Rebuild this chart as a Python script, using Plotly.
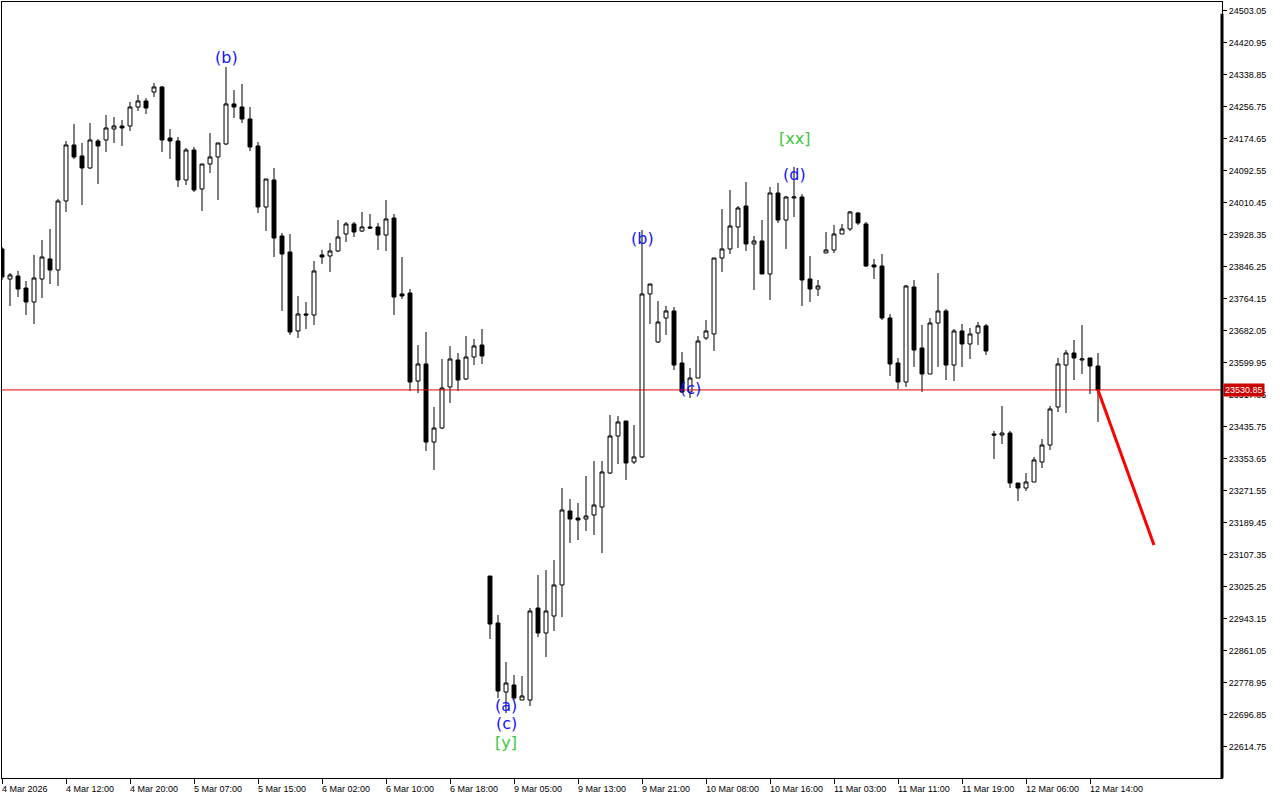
import plotly.graph_objects as go

# ---------------- data (hourly candles, 4 Mar 2026 -> 12 Mar 2026) ----------------
opens = [23892.5, 23815.4, 23823.1, 23792.3, 23756.4, 23815.4, 23866.8, 23838.5, 24015.6, 24159.3,
         24131.1, 24100.3, 24169.5, 24172.1, 24200.3, 24208.0, 24208.0, 24256.7, 24272.2, 24295.2,
         24308.1, 24177.2, 24169.5, 24069.5, 24146.4, 24046.4, 24110.5, 24128.5, 24161.8, 24264.5,
         24256.7, 24225.9, 24156.7, 24000.2, 24069.5, 23925.8, 23884.7, 23682.1, 23725.7, 23723.1,
         23877.1, 23874.5, 23887.3, 23930.9, 23956.6, 23938.6, 23948.9, 23948.9, 23928.3, 23971.9,
         23777.0, 23779.5, 23553.7, 23597.4, 23397.2, 23433.1, 23538.4, 23607.6, 23558.9, 23615.3,
         23646.1, 23053.4, 22932.8, 22755.8, 22773.8, 22735.3, 22735.3, 22971.3, 22907.2, 22950.8,
         23030.4, 23220.2, 23202.2, 23199.7, 23210.0, 23230.5, 23317.7, 23412.6, 23451.1, 23345.9,
         23358.8, 23777.0, 23653.8, 23715.4, 23733.4, 23599.9, 23525.5, 23561.4, 23664.1, 23674.4,
         23869.3, 23892.5, 23948.9, 24002.7, 23905.3, 23913.0, 23828.3, 24036.1, 23966.8, 24023.3,
         24025.8, 23815.4, 23789.8, 23882.2, 23889.9, 23930.9, 23943.8, 23984.8, 23956.6, 23851.4,
         23848.8, 23715.4, 23599.9, 23551.2, 23794.9, 23638.4, 23571.7, 23702.6, 23733.4, 23594.8,
         23682.1, 23648.7, 23677.0, 23695.1, 23417.8, 23415.2, 23420.3, 23292.0, 23279.2, 23294.6,
         23345.9, 23389.5, 23487.1, 23594.8, 23625.6, 23607.6, 23612.8, 23592.2]

highs = [23897.6, 23830.8, 23836.0, 23810.3, 23877.1, 23915.5, 23943.8, 24020.7, 24169.5, 24213.2,
         24164.4, 24215.7, 24174.7, 24236.2, 24231.1, 24223.4, 24269.6, 24287.6, 24279.8, 24318.3,
         24310.6, 24200.3, 24179.8, 24151.5, 24154.1, 24110.5, 24190.0, 24164.4, 24359.4, 24300.4,
         24315.8, 24256.7, 24166.9, 24072.0, 24100.3, 23933.5, 23930.9, 23771.9, 23756.4, 23861.6,
         23889.9, 23907.8, 23966.8, 23961.7, 23961.7, 23987.4, 23982.2, 23959.1, 24018.1, 23982.2,
         23871.9, 23789.8, 23646.1, 23679.5, 23487.1, 23610.2, 23643.6, 23625.6, 23669.2, 23661.5,
         23687.2, 23053.4, 22953.4, 22832.8, 22799.5, 22796.9, 22971.3, 23056.0, 23068.8, 23094.5,
         23279.2, 23251.0, 23240.7, 23310.0, 23348.5, 23348.5, 23466.5, 23463.9, 23451.1, 23440.8,
         23941.2, 23802.6, 23759.0, 23746.2, 23743.7, 23628.2, 23587.1, 23669.2, 23710.3, 23869.3,
         23995.0, 24043.8, 24002.7, 24064.3, 23925.8, 23966.8, 24051.5, 24061.8, 24028.4, 24102.8,
         24033.5, 23874.5, 23812.9, 23936.0, 23954.0, 23956.6, 23989.9, 23987.4, 23961.7, 23866.8,
         23879.6, 23725.7, 23612.8, 23800.1, 23812.9, 23697.5, 23715.4, 23830.8, 23738.5, 23687.2,
         23700.0, 23689.7, 23705.1, 23700.0, 23425.5, 23489.6, 23425.5, 23292.0, 23317.7, 23358.8,
         23404.9, 23489.6, 23612.8, 23633.3, 23658.9, 23697.5, 23612.8, 23625.6]

lows = [23812.9, 23746.2, 23769.3, 23723.1, 23700.0, 23766.7, 23802.6, 23797.5, 23987.4, 24123.4,
        24005.3, 24097.7, 24059.2, 24141.3, 24164.4, 24156.7, 24195.2, 24246.5, 24238.8, 24282.4,
        24141.3, 24123.4, 24051.5, 24056.6, 24038.7, 23989.9, 24087.4, 24018.1, 24159.3, 24228.5,
        24215.7, 24143.9, 23984.8, 23938.6, 23871.9, 23733.4, 23671.8, 23664.1, 23687.2, 23697.5,
        23854.0, 23833.4, 23884.7, 23910.4, 23923.2, 23936.0, 23943.8, 23889.9, 23887.3, 23723.1,
        23764.1, 23528.1, 23522.9, 23374.1, 23325.4, 23430.6, 23497.3, 23528.1, 23556.3, 23594.8,
        23597.4, 22891.8, 22740.4, 22701.9, 22735.3, 22735.3, 22719.9, 22896.9, 22845.6, 22912.3,
        22948.2, 23138.1, 23145.8, 23168.9, 23158.6, 23112.4, 23315.2, 23340.8, 23299.7, 23340.8,
        23356.2, 23700.0, 23651.3, 23671.8, 23582.0, 23522.9, 23510.1, 23561.4, 23658.9, 23630.7,
        23833.4, 23879.6, 23895.0, 23887.3, 23787.2, 23828.3, 23761.6, 23959.1, 23892.5, 23974.5,
        23746.2, 23756.4, 23771.9, 23882.2, 23882.2, 23930.9, 23938.6, 23954.0, 23846.3, 23815.4,
        23710.3, 23566.6, 23533.3, 23538.4, 23589.7, 23525.5, 23571.7, 23589.7, 23556.3, 23553.7,
        23589.7, 23610.2, 23646.1, 23620.5, 23353.6, 23392.1, 23279.2, 23245.8, 23271.5, 23294.6,
        23330.5, 23376.7, 23474.2, 23471.6, 23556.3, 23571.7, 23520.4, 23448.6]

closes = [23820.5, 23825.7, 23789.8, 23756.4, 23818.0, 23871.9, 23838.5, 24015.6, 24159.3, 24128.5,
          24100.3, 24172.1, 24156.7, 24202.9, 24208.0, 24202.9, 24256.7, 24272.2, 24254.2, 24308.1,
          24172.1, 24169.5, 24069.5, 24146.4, 24043.8, 24110.5, 24128.5, 24164.4, 24264.5, 24256.7,
          24225.9, 24154.1, 24000.2, 24072.0, 23920.6, 23879.6, 23679.5, 23725.7, 23723.1, 23836.0,
          23871.9, 23887.3, 23923.2, 23956.6, 23936.0, 23948.9, 23946.3, 23928.3, 23969.4, 23769.3,
          23771.9, 23551.2, 23597.4, 23397.2, 23433.1, 23535.8, 23610.2, 23556.3, 23615.3, 23643.6,
          23617.9, 22930.3, 22758.4, 22778.9, 22740.4, 22745.6, 22963.6, 22907.2, 22963.6, 23030.4,
          23222.8, 23199.7, 23197.1, 23207.4, 23235.6, 23320.3, 23412.6, 23448.6, 23343.4, 23358.8,
          23777.0, 23802.6, 23705.1, 23733.4, 23594.8, 23525.5, 23561.4, 23656.4, 23682.1, 23869.3,
          23892.5, 23951.4, 23997.6, 23905.3, 23913.0, 23828.3, 24036.1, 23966.8, 24025.8, 24025.8,
          23812.9, 23789.8, 23797.5, 23889.9, 23930.9, 23943.8, 23987.4, 23959.1, 23848.8, 23846.3,
          23715.4, 23597.4, 23551.2, 23797.5, 23633.3, 23571.7, 23702.6, 23733.4, 23594.8, 23682.1,
          23648.7, 23674.4, 23695.1, 23630.7, 23415.2, 23420.3, 23292.0, 23279.2, 23294.6, 23351.1,
          23389.5, 23481.9, 23597.4, 23625.6, 23612.8, 23610.2, 23592.2, 23530.85]

time_labels = ["4 Mar 2026", "4 Mar 12:00", "4 Mar 20:00", "5 Mar 07:00", "5 Mar 15:00",
               "6 Mar 02:00", "6 Mar 10:00", "6 Mar 18:00", "9 Mar 05:00", "9 Mar 13:00",
               "9 Mar 21:00", "10 Mar 08:00", "10 Mar 16:00", "11 Mar 03:00", "11 Mar 11:00",
               "11 Mar 19:00", "12 Mar 06:00", "12 Mar 14:00"]
label_step = 8  # one time label every 8 bars

price_ticks = [22614.75, 22696.85, 22778.95, 22861.05, 22943.15, 23025.25, 23107.35, 23189.45,
               23271.55, 23353.65, 23435.75, 23517.85, 23599.95, 23682.05, 23764.15, 23846.25,
               23928.35, 24010.45, 24092.55, 24174.65, 24256.75, 24338.85, 24420.95, 24503.05]

current_price = 23530.85

# wave labels: text, bar index, price, colour
wave_texts = ["(b)", "(a)", "(c)", "[y]", "(b)", "(c)", "(d)", "[xx]"]
wave_bars = [28, 63, 63, 63, 80, 86, 99, 99]
wave_prices = [24385.0, 22722.5, 22676.3, 22627.5, 23918.1, 23533.3, 24082.3, 24174.7]
wave_colors = ["#1414ff", "#1414ff", "#1414ff", "#3cc83c", "#1414ff", "#1414ff", "#1414ff", "#3cc83c"]

# forecast line (bar index, price)
forecast_bars = [137, 144]
forecast_prices = [23530.85, 23133.0]

# ---------------- figure ----------------
bars = list(range(len(closes)))

fig = go.Figure()
fig.add_trace(go.Candlestick(
    x=bars, open=opens, high=highs, low=lows, close=closes,
    increasing=dict(line=dict(color="black", width=1), fillcolor="white"),
    decreasing=dict(line=dict(color="black", width=1), fillcolor="black"),
    whiskerwidth=0, showlegend=False, hoverinfo="skip",
))

fig.add_trace(go.Scatter(
    x=forecast_bars, y=forecast_prices, mode="lines",
    line=dict(color="#ff0000", width=3), showlegend=False, hoverinfo="skip",
))

shapes = [
    dict(type="line", xref="paper", x0=0, x1=1, yref="y", y0=current_price, y1=current_price,
         line=dict(color="#e00000", width=1), layer="above"),
    dict(type="line", xref="paper", x0=1, x1=1, yref="paper", y0=0, y1=0.985,
         line=dict(color="black", width=3), layer="above"),
]

annotations = []
for k, lab in enumerate(time_labels):
    annotations.append(dict(
        x=k * label_step, xref="x", y=0, yref="paper", yanchor="top", xanchor="left",
        text=lab, showarrow=False, xshift=-2, yshift=-4,
        font=dict(family="Liberation Sans", size=9, color="black"),
    ))

for t, b, p, c in zip(wave_texts, wave_bars, wave_prices, wave_colors):
    annotations.append(dict(
        x=b, xref="x", y=p, yref="y", text=t, showarrow=False,
        xanchor="center", yanchor="middle",
        font=dict(family="DejaVu Sans", size=16, color=c),
    ))

annotations.append(dict(
    x=1, xref="paper", y=current_price, yref="y", xanchor="left", yanchor="middle",
    text=f"{current_price:.2f}", showarrow=False, xshift=1,
    bgcolor="#cc0000", borderpad=1,
    font=dict(family="Liberation Sans", size=9, color="white"),
))

fig.update_layout(
    width=1280, height=800,
    margin=dict(l=2, r=58, t=2, b=22),
    paper_bgcolor="white", plot_bgcolor="white",
    shapes=shapes, annotations=annotations,
    xaxis=dict(
        range=[0, 152.5], rangeslider=dict(visible=False),
        showgrid=False, zeroline=False,
        showline=True, linecolor="black", linewidth=1, mirror=True,
        tickmode="array", tickvals=[k * label_step for k in range(len(time_labels))],
        ticks="outside", ticklen=5, tickcolor="black", tickwidth=1,
        showticklabels=False,
    ),
    yaxis=dict(
        side="right", range=[22535.2, 24526.1],
        showgrid=False, zeroline=False,
        showline=True, linecolor="black", linewidth=1, mirror=True,
        tickmode="array", tickvals=price_ticks, ticktext=[f"{v:.2f}" for v in price_ticks],
        ticks="outside", ticklen=4, tickcolor="black", tickwidth=1,
        tickfont=dict(family="Liberation Sans", size=9, color="black"),
    ),
)

fig.write_html("out.html", config={"displayModeBar": False},
               post_script="document.body.style.margin='0px';")
